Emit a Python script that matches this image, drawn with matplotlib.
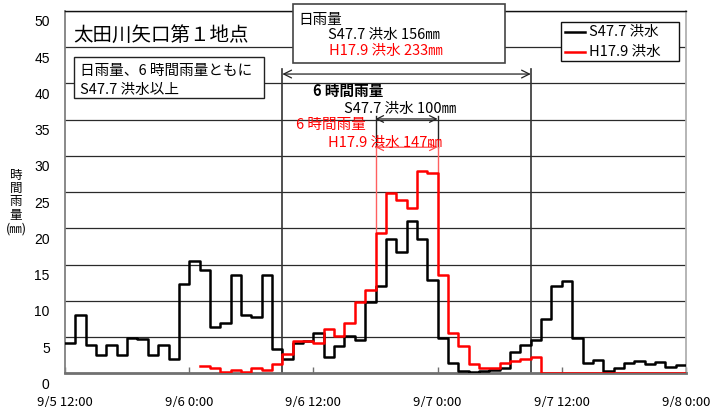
import matplotlib
matplotlib.use('Agg')
import matplotlib.pyplot as plt
import matplotlib.transforms as mtransforms
from matplotlib.patches import Rectangle
from matplotlib.lines import Line2D
import numpy as np

plt.rcParams['font.family'] = ['Noto Sans CJK JP', 'DejaVu Sans']

# ---------------- data ----------------
x_tick_hours = [0, 12, 24, 36, 48, 60]
x_tick_labels = ["9/5 12:00", "9/6 0:00", "9/6 12:00", "9/7 0:00", "9/7 12:00", "9/8 0:00"]
y_ticks = [0, 5, 10, 15, 20, 25, 30, 35, 40, 45, 50]

# hourly rainfall (mm), hour 0 = 9/5 12:00
s47_rain = [4.2, 8.1, 3.9, 2.5, 3.9, 2.5, 4.9, 4.7, 2.5, 3.9, 2.0, 12.3,
            15.5, 14.2, 6.4, 7.0, 13.5, 8.1, 7.8, 13.6, 3.3, 2.0, 4.2, 4.4,
            5.5, 2.3, 3.8, 5.2, 4.6, 9.8, 12.1, 18.5, 16.8, 21.0, 18.5, 12.9,
            4.9, 1.4, 0.3, 0.2, 0.3, 0.4, 0.8, 3.0, 3.9, 4.6, 7.5, 12.0,
            12.7, 4.9, 1.4, 1.9, 0.3, 0.8, 1.4, 1.7, 1.3, 1.5, 0.9, 1.1]
h17_rain = [np.nan] * 13 + [1.0, 0.8, 0.2, 0.4, 0.2, 0.7, 0.5, 1.3,
            2.6, 4.5, 4.5, 4.2, 6.1, 5.2, 7.0, 9.9, 11.5,
            19.3, 24.9, 23.9, 22.8, 27.9, 27.6,
            13.5, 5.6, 3.8, 1.3, 0.8, 0.8, 1.4, 1.7, 2.0, 2.3,
            0, 0, 0, 0, 0, 0, 0, 0, 0, 0, 0, 0, 0, 0]

series_names = ["S47.7 洪水", "H17.9 洪水"]
daily_window = (21, 45)      # 9/6 9:00 - 9/7 9:00
six_hour_window = (30, 36)   # 9/6 18:00 - 9/7 0:00

W, H = 710, 407
fig = plt.figure(figsize=(W / 100, H / 100), dpi=100)
ax = fig.add_axes([65 / W, 1 - 373.3 / H, (686 - 65) / W, (373.3 - 11) / H])

hours = np.arange(len(s47_rain) + 1)
ax.set_xlim(0, 60)
ax.set_ylim(0, 50)

# grid lines
for v in y_ticks[1:]:
    ax.axhline(v, color='#2a2a2a', lw=0.9, zorder=0)

# data
ax.step(hours, np.append(s47_rain, s47_rain[-1]), where='post', color='black', lw=1.8, zorder=3)
ax.step(hours, np.append(h17_rain, h17_rain[-1]), where='post', color='#ff0000', lw=1.8, zorder=4)

# daily-rainfall bracket
d0, d1 = daily_window
for xv in (d0, d1):
    ax.plot([xv, xv], [0, 42.0], color='#333333', lw=1.2, zorder=2)
ax.annotate('', xy=(d1, 41.3), xytext=(d0, 41.3),
            arrowprops=dict(arrowstyle='<->', color='#222222', lw=0.9, shrinkA=0, shrinkB=0,
                            mutation_scale=14), zorder=5)

# 6-hour bracket (S47 black, H17 red)
w0, w1 = six_hour_window
for xv in (w0, w1):
    ax.plot([xv, xv], [31.2, 35.5], color='#222222', lw=1.0, zorder=2)
ax.plot([w0, w0], [h17_rain[w0], 31.2], color='#ff6060', lw=1.0, zorder=2)
ax.plot([w1, w1], [h17_rain[w1 - 1], 31.2], color='#ff6060', lw=1.0, zorder=2)
ax.annotate('', xy=(w1, 35.1), xytext=(w0, 35.1),
            arrowprops=dict(arrowstyle='<->', color='#222222', lw=0.9, shrinkA=0, shrinkB=0,
                            mutation_scale=12), zorder=5)
ax.annotate('', xy=(w1, 31.2), xytext=(w0, 31.2),
            arrowprops=dict(arrowstyle='<->', color='#ff5050', lw=0.9, shrinkA=0, shrinkB=0,
                            mutation_scale=12), zorder=5)

# axes styling
ax.spines['top'].set_color('#111111')
ax.spines['top'].set_linewidth(1.0)
ax.spines['left'].set_color('#808080')
ax.spines['left'].set_linewidth(1.3)
ax.spines['right'].set_color('#b0b0b0')
ax.spines['right'].set_linewidth(1.3)
ax.spines['bottom'].set_color('#707070')
ax.spines['bottom'].set_linewidth(2.0)

ax.set_xticks(x_tick_hours)
ax.set_xticklabels(x_tick_labels, fontsize=9.5)
ax.tick_params(axis='x', direction='in', length=4, width=1, color='#707070', pad=16)
ax.set_yticks(y_ticks)
ax.set_yticklabels([str(v) for v in y_ticks], fontsize=10, family='Liberation Sans')
ax.tick_params(axis='y', length=0, pad=11)
offset = mtransforms.ScaledTranslation(0, -10 / 100, fig.dpi_scale_trans)
for lab in ax.get_yticklabels():
    lab.set_transform(lab.get_transform() + offset)

# y label
fig.text(16 / W, 1 - 202 / H, "時\n間\n雨\n量\n(㎜)", fontsize=9, ha='center', va='center',
         linespacing=1.05)


def P(x, y):
    return (x / W, 1 - y / H)


# title
fig.text(*P(73, 35), "太田川矢口第１地点", fontsize=14, ha='left', va='center')

# note box
fig.add_artist(Rectangle(P(74, 98), 190 / W, 41 / H, transform=fig.transFigure,
                         facecolor='white', edgecolor='#222222', lw=1.0, zorder=5))
fig.text(*P(80, 70.5), "日雨量、6 時間雨量ともに", fontsize=10.5, ha='left', va='center', zorder=6)
fig.text(*P(80, 89.5), "S47.7 洪水以上", fontsize=10.5, ha='left', va='center', zorder=6)

# daily rainfall box
fig.add_artist(Rectangle(P(292.7, 63.3), (505 - 292.7) / W, 59.3 / H, transform=fig.transFigure,
                         facecolor='white', edgecolor='#444444', lw=1.2, zorder=5))
fig.text(*P(298, 20), "日雨量", fontsize=10.5, ha='left', va='center', zorder=6)
fig.text(*P(327.5, 34.5), "S47.7 洪水 156㎜", fontsize=10.5, ha='left', va='center', zorder=6)
fig.text(*P(329, 50.5), "H17.9 洪水 233㎜", fontsize=10.5, ha='left', va='center',
         color='#ff0000', zorder=6)

# legend box
fig.add_artist(Rectangle(P(561, 61), 118.3 / W, 39 / H, transform=fig.transFigure,
                         facecolor='white', edgecolor='#111111', lw=1.0, zorder=5))
fig.add_artist(Line2D([565 / W, 585 / W], [1 - 32.3 / H] * 2, transform=fig.transFigure,
                      color='black', lw=1.8, zorder=6))
fig.add_artist(Line2D([565 / W, 585 / W], [1 - 51.7 / H] * 2, transform=fig.transFigure,
                      color='#ff0000', lw=1.8, zorder=6))
fig.text(*P(589, 32.3), series_names[0], fontsize=10.5, ha='left', va='center', zorder=6)
fig.text(*P(589, 51.7), series_names[1], fontsize=10.5, ha='left', va='center', zorder=6)

# 6-hour annotations
fig.text(*P(313, 90.5), "6 時間雨量", fontsize=10.5, fontweight='bold', ha='left', va='center', zorder=6)
fig.text(*P(344, 109), "S47.7 洪水 100㎜", fontsize=10.5, ha='left', va='center', zorder=6)
fig.text(*P(296.5, 125), "6 時間雨量", fontsize=10.5, ha='left', va='center', color='#ff0000', zorder=6)
fig.text(*P(327.5, 143), "H17.9 洪水 147㎜", fontsize=10.5, ha='left', va='center',
         color='#ff0000', zorder=6)

fig.savefig('out.png', dpi=100)
